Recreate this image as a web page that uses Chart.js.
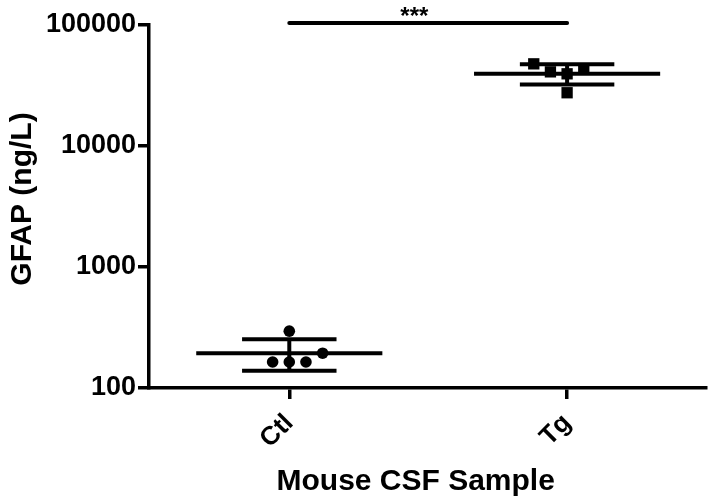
<!DOCTYPE html>
<html>
<head>
<meta charset="utf-8">
<script src="https://cdn.jsdelivr.net/npm/chart.js@4.4.1/dist/chart.umd.min.js"></script>
<style>
  html, body { margin: 0; padding: 0; background: #fff; }
  #wrap { width: 714px; height: 502px; }
</style>
</head>
<body>
<div id="wrap"><canvas id="c" width="714" height="502"></canvas></div>
<script>
// ---- data ----
const categories = ['Ctl', 'Tg'];
const yTickValues = [100, 1000, 10000, 100000];

const ctlValues = [295, 194, 164, 164, 164];
const ctlX      = [1.00, 1.12, 0.94, 1.00, 1.06];

const tgValues  = [47750, 41000, 39500, 43450, 27550];
const tgX       = [1.88, 1.94, 2.00, 2.06, 2.00];

const groupMeans  = [194, 39500];
const groupSdLow  = [139, 32300];
const groupSdHigh = [253, 47400];

const sigLabel = '***';
const sigLevel = 104000;
const xTitle = 'Mouse CSF Sample';
const yTitle = 'GFAP (ng/L)';

// ---- chart ----
const meanHalf = 0.335, capHalf = 0.17;
function seg(x1, y1, x2, y2) { return [{x: x1, y: y1}, {x: x2, y: y2}]; }
function lineDs(data, extra) {
  return Object.assign({type: 'line', data, showLine: true, borderColor: '#000', borderWidth: 4,
    pointRadius: 0, fill: false, borderCapStyle: 'butt'}, extra || {});
}

const datasets = [];
groupMeans.forEach((m, i) => {
  const cx = i + 1;
  datasets.push(lineDs(seg(cx - meanHalf, m, cx + meanHalf, m)));
  datasets.push(lineDs(seg(cx - capHalf, groupSdHigh[i], cx + capHalf, groupSdHigh[i])));
  datasets.push(lineDs(seg(cx - capHalf, groupSdLow[i], cx + capHalf, groupSdLow[i])));
  datasets.push(lineDs(seg(cx, groupSdLow[i], cx, groupSdHigh[i])));
});
datasets.push(lineDs(seg(1, sigLevel, 2, sigLevel), {clip: false, borderCapStyle: 'round'}));
datasets.push({type: 'scatter', data: ctlValues.map((v, i) => ({x: ctlX[i], y: v})),
  pointStyle: 'circle', pointRadius: 5.8, backgroundColor: '#000', borderColor: '#000', borderWidth: 0});
datasets.push({type: 'scatter', data: tgValues.map((v, i) => ({x: tgX[i], y: v})),
  pointStyle: 'rect', pointRadius: 8, backgroundColor: '#000', borderColor: '#000', borderWidth: 0});

const FONT = '"Liberation Sans", Arial, sans-serif';
const textPlugin = {
  id: 'texts',
  afterDatasetsDraw(chart) {
    const {ctx, scales} = chart;
    ctx.save();
    ctx.fillStyle = '#000';
    // significance stars
    ctx.font = 'bold 24px ' + FONT;
    ctx.textAlign = 'center';
    ctx.textBaseline = 'alphabetic';
    ctx.fillText(sigLabel, scales.x.getPixelForValue(1.45), scales.y.getPixelForValue(sigLevel) + 1);
    // x-axis title
    ctx.font = 'bold 30px ' + FONT;
    ctx.textBaseline = 'middle';
    ctx.fillText(xTitle, scales.x.getPixelForValue(1.455), 482);
    // y-axis title
    ctx.translate(23, 199);
    ctx.rotate(-Math.PI / 2);
    ctx.fillText(yTitle, 0, 0);
    ctx.restore();
  }
};

new Chart(document.getElementById('c'), {
  type: 'scatter',
  data: { datasets },
  plugins: [textPlugin],
  options: {
    responsive: false,
    animation: false,
    layout: { padding: { top: 25, right: 8, bottom: 2, left: 0 } },
    plugins: { legend: { display: false }, tooltip: { enabled: false } },
    scales: {
      x: {
        type: 'linear', min: 0.495, max: 2.5,
        afterBuildTicks(s) { s.ticks = categories.map((c, i) => ({value: i + 1})); },
        afterFit(s) { s.height = 112; },
        ticks: {
          callback: v => categories[Math.round(v) - 1] || '',
          color: '#000', font: { family: FONT, size: 26, weight: 'bold' },
          maxRotation: 45, minRotation: 45, padding: 9, autoSkip: false
        },
        grid: { drawOnChartArea: false, drawTicks: true, tickLength: 11, color: '#000', lineWidth: 3.5 },
        border: { display: true, color: '#000', width: 3.5 },
        title: { display: false }
      },
      y: {
        type: 'logarithmic', min: 100, max: 100000,
        afterBuildTicks(s) { s.ticks = yTickValues.map(v => ({value: v})); },
        afterFit(s) { s.width = 149; },
        ticks: {
          callback: v => String(v),
          color: '#000', font: { family: FONT, size: 27, weight: 'bold' }, padding: 2, autoSkip: false
        },
        grid: { drawOnChartArea: false, drawTicks: true, tickLength: 11, color: '#000', lineWidth: 3.5 },
        border: { display: true, color: '#000', width: 3.5 },
        title: { display: false }
      }
    }
  }
});
</script>
</body>
</html>
